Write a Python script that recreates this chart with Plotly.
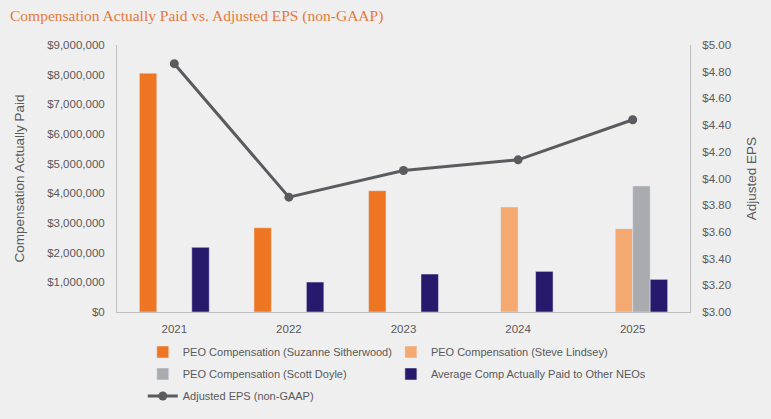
import plotly.graph_objects as go

years = ["2021", "2022", "2023", "2024", "2025"]
sitherwood = [8050000, 2840000, 4090000, None, None]
lindsey = [None, None, None, 3540000, 2810000]
doyle = [None, None, None, None, 4250000]
other_neos = [2180000, 1010000, 1280000, 1370000, 1100000]
adj_eps = [4.86, 3.86, 4.06, 4.14, 4.44]

comp_ticks = list(range(0, 9000001, 1000000))
eps_ticks = [3.0, 3.2, 3.4, 3.6, 3.8, 4.0, 4.2, 4.4, 4.6, 4.8, 5.0]

BG = "#EFEFEF"
TXT = "#595959"
AX = "#BFBFBF"
FONT = "Liberation Sans"

fig = go.Figure()
fig.add_trace(go.Bar(x=years, y=sitherwood, name="PEO Compensation (Suzanne Sitherwood)",
                     marker_color="#EE7623", legend="legend", legendgroup="a"))
fig.add_trace(go.Bar(x=years, y=lindsey, name="PEO Compensation (Steve Lindsey)",
                     marker_color="#F4A971", legend="legend2", legendgroup="b"))
fig.add_trace(go.Bar(x=years, y=doyle, name="PEO Compensation (Scott Doyle)",
                     marker_color="#AAABAE", legend="legend", legendgroup="c"))
fig.add_trace(go.Bar(x=years, y=other_neos, name="Average Comp Actually Paid to Other NEOs",
                     marker_color="#27196B", legend="legend2", legendgroup="d"))
fig.add_trace(go.Scatter(x=years, y=adj_eps, name="Adjusted EPS (non-GAAP)", yaxis="y2",
                         mode="lines+markers", legend="legend", legendgroup="e",
                         line=dict(color="#5B5B5F", width=3),
                         marker=dict(color="#5B5B5F", size=9)))

legend_common = dict(orientation="v", yanchor="top", xanchor="left",
                     traceorder="grouped", tracegroupgap=3,
                     bgcolor="rgba(0,0,0,0)", font=dict(size=11, color=TXT, family=FONT))

fig.update_layout(
    width=771, height=419,
    paper_bgcolor=BG, plot_bgcolor=BG,
    margin=dict(l=117, r=81, t=45, b=107, autoexpand=False),
    barmode="group", bargap=0.39, bargroupgap=0,
    font=dict(family=FONT, size=12, color=TXT),
    title=dict(text="Compensation Actually Paid vs. Adjusted EPS (non-GAAP)",
               x=0.013, xanchor="left", y=0.962, yanchor="middle",
               font=dict(family="Liberation Serif", size=15.5, color="#E5793A")),
    xaxis=dict(showline=True, linecolor=AX, linewidth=1, showgrid=False, automargin=False,
               ticks="", tickfont=dict(size=11.5, color=TXT), ticklabelstandoff=6),
    yaxis=dict(range=[0, 9000000], tickvals=comp_ticks, tickformat="$,.0f",
               showline=True, linecolor=AX, linewidth=1, showgrid=False, zeroline=False,
               ticks="", tickfont=dict(size=11.5, color=TXT), automargin=False,
               ticklabelstandoff=9,
               title=dict(text="Compensation Actually Paid", font=dict(size=13.5, color=TXT),
                          standoff=19)),
    yaxis2=dict(range=[3, 5], tickvals=eps_ticks, tickformat="$.2f", overlaying="y",
                side="right", showline=True, linecolor=AX, linewidth=1, showgrid=False,
                zeroline=False, ticks="", tickfont=dict(size=11.5, color=TXT), automargin=False,
                ticklabelstandoff=9,
                title=dict(text="Adjusted EPS", font=dict(size=13.5, color=TXT),
                           standoff=16)),
    legend=dict(x=0.045, y=-0.0955, **legend_common),
    legend2=dict(x=0.478, y=-0.0955, **legend_common),
)

fig.write_html("out.html", config={"displayModeBar": False},
               post_script="document.body.style.margin='0px';")
